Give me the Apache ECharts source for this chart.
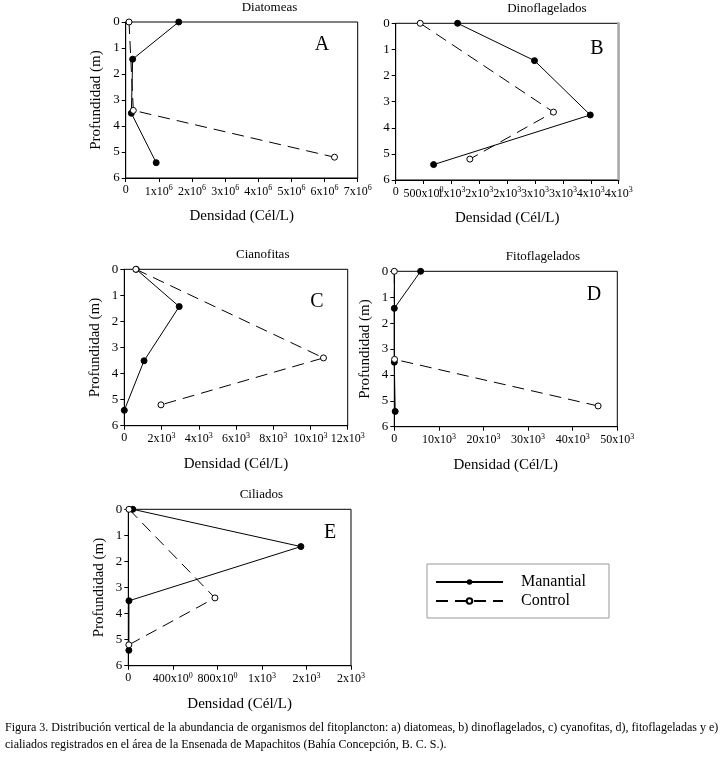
<!DOCTYPE html>
<html><head><meta charset="utf-8">
<script src="https://cdn.jsdelivr.net/npm/echarts@6/dist/echarts.min.js"></script>
<style>html,body{margin:0;padding:0;background:#fff}#c{width:722px;height:758px}</style>
</head><body><div id="c"></div>
<script>
// Depths (m)
var depthManantial = [0, 1.43, 3.51, 5.41];
var depthControl = [0, 3.4, 5.2];

// Panel values (Cél/L)
var diatomeasManantial = [1600000, 210000, 170000, 920000];
var diatomeasControl = [100000, 230000, 6300000];
var dinoManantial = [1110, 2490, 3490, 680];
var dinoControl = [440, 2830, 1330];
var cianoManantial = [640, 2950, 1060, 0];
var cianoControl = [620, 10700, 1970];
var fitoManantial = [5900, 0, 0, 200];
var fitoControl = [0, 60, 45700];
var ciliadosManantial = [40, 1550, 6, 5];
var ciliadosControl = [6, 778, 5];

// Tick labels
var ticksA = ['0','1x10{s|6}','2x10{s|6}','3x10{s|6}','4x10{s|6}','5x10{s|6}','6x10{s|6}','7x10{s|6}'];
var ticksB = ['0','500x10{s|0}','1x10{s|3}','2x10{s|3}','2x10{s|3}','3x10{s|3}','3x10{s|3}','4x10{s|3}','4x10{s|3}'];
var ticksC = ['0','2x10{s|3}','4x10{s|3}','6x10{s|3}','8x10{s|3}','10x10{s|3}','12x10{s|3}'];
var ticksD = ['0','10x10{s|3}','20x10{s|3}','30x10{s|3}','40x10{s|3}','50x10{s|3}'];
var ticksE = ['0','400x10{s|0}','800x10{s|0}','1x10{s|3}','2x10{s|3}','2x10{s|3}'];
var depthTicks = ['0','1','2','3','4','5','6'];

var titles = ['Diatomeas','Dinoflagelados','Cianofitas','Fitoflagelados','Ciliados'];
var letters = ['A','B','C','D','E'];
var seriesNames = ['Manantial','Control'];
var xName = 'Densidad (Cél/L)';
var yName = 'Profundidad (m)';
var caption1 = 'Figura 3. Distribución vertical de la abundancia de organismos del fitoplancton: a) diatomeas, b) dinoflagelados, c) cyanofitas, d), fitoflageladas y e)';
var caption2 = 'cialiados registrados en el área de la Ensenada de Mapachitos (Bahía Concepción, B. C. S.).';

var FONT = 'Liberation Serif';
var panels = [
  {grid:{left:125.7, top:22, width:232, height:156}, max:7000000, interval:1000000, ticks:ticksA, m:diatomeasManantial, c:diatomeasControl, yname:true, letter:[322,45]},
  {grid:{left:395.7, top:23.3, width:223, height:156.7}, max:4000, interval:500, ticks:ticksB, m:dinoManantial, c:dinoControl, yname:false, grayRight:true, letter:[597,49]},
  {grid:{left:124.3, top:269.3, width:223.4, height:156.4}, max:12000, interval:2000, ticks:ticksC, m:cianoManantial, c:cianoControl, yname:true, letter:[317,302]},
  {grid:{left:394.3, top:271.3, width:223, height:155.4}, max:50000, interval:10000, ticks:ticksD, m:fitoManantial, c:fitoControl, yname:true, letter:[594,295]},
  {grid:{left:128.3, top:509.3, width:222.7, height:156.4}, max:2000, interval:400, ticks:ticksE, m:ciliadosManantial, c:ciliadosControl, yname:true, letter:[330,533]}
];

function pairs(xs, ys){ return xs.map(function(v,i){ return [v, ys[i]]; }); }

var grids=[], xAxes=[], yAxes=[], series=[], graphics=[];
panels.forEach(function(p, k){
  grids.push(Object.assign({show:true, borderColor:'#000', borderWidth:1, containLabel:false}, p.grid));
  var tl = p.ticks;
  xAxes.push({
    type:'value', gridIndex:k, min:0, max:p.max, interval:p.interval,
    name:xName, nameLocation:'middle', nameGap:31,
    nameTextStyle:{fontFamily:FONT, fontSize:15, color:'#000'},
    axisLine:{show:true, onZero:false, lineStyle:{color:'#000', width:1}},
    axisTick:{show:true, inside:false, length:4, lineStyle:{color:'#000'}},
    splitLine:{show:false},
    axisLabel:{show:true, margin:6, color:'#000', fontFamily:FONT, fontSize:12,
      formatter:function(v, i){ var idx = Math.round(v / p.interval); return tl[idx] !== undefined ? tl[idx] : ''; },
      rich:{s:{fontFamily:FONT, fontSize:8, color:'#000', padding:[0,0,7,0]}}}
  });
  yAxes.push({
    type:'value', gridIndex:k, min:0, max:6, interval:1, inverse:true,
    name: p.yname ? yName : '', nameLocation:'middle', nameGap:22, nameRotate:90,
    nameTextStyle:{fontFamily:FONT, fontSize:15, color:'#000'},
    axisLine:{show:true, onZero:false, lineStyle:{color:'#000', width:1}},
    axisTick:{show:true, inside:false, length:4, lineStyle:{color:'#000'}},
    splitLine:{show:false},
    axisLabel:{margin:6, color:'#000', fontFamily:FONT, fontSize:13, formatter:function(v){ return depthTicks[Math.round(v)]; }}
  });
  series.push({
    name:seriesNames[0], type:'line', xAxisIndex:k, yAxisIndex:yAxes.length-1,
    data:pairs(p.m, depthManantial), symbol:'circle', symbolSize:6,
    lineStyle:{color:'#000', width:1, type:'solid'}, itemStyle:{color:'#000', borderColor:'#000'},
    emphasis:{disabled:true}, animation:false, z:2
  });
  series.push({
    name:seriesNames[1], type:'line', xAxisIndex:k, yAxisIndex:yAxes.length-1,
    data:pairs(p.c, depthControl), symbol:'circle', symbolSize:6, showAllSymbol:true,
    lineStyle:{color:'#000', width:1, type:[12,7]}, itemStyle:{color:'#fff', borderColor:'#000', borderWidth:1},
    emphasis:{disabled:true}, animation:false, z:3
  });
  if (p.grayRight){
    yAxes.push({type:'value', gridIndex:k, min:0, max:6, position:'right', inverse:true,
      axisLine:{show:true, onZero:false, lineStyle:{color:'#aaa', width:2.5}}, axisTick:{show:false}, axisLabel:{show:false}, splitLine:{show:false}});
  }
  graphics.push({type:'text', left:p.grid.left + p.grid.width/2, top:p.grid.top - 21, style:{text:titles[k], font:'13px "Liberation Serif"', fill:'#000', textAlign:'center'}});
  graphics.push({type:'text', x:p.letter[0], y:p.letter[1], style:{text:letters[k], font:'20px "Liberation Serif"', fill:'#000', textAlign:'center', textVerticalAlign:'middle'}});
});

graphics.push({type:'rect', shape:{x:427, y:564, width:182, height:54}, style:{fill:'none', stroke:'#999', lineWidth:1}});
graphics.push({type:'text', x:5, y:722, style:{text:caption1, font:'12px "Liberation Serif"', fill:'#000'}});
graphics.push({type:'text', x:5, y:739, style:{text:caption2, font:'12px "Liberation Serif"', fill:'#000'}});

var chart = echarts.init(document.getElementById('c'), null, {renderer:'canvas'});
chart.setOption({
  animation:false,
  backgroundColor:'#fff',
  grid:grids, xAxis:xAxes, yAxis:yAxes, series:series,
  legend:{data:seriesNames, orient:'vertical', left:435, top:574, itemWidth:67, itemHeight:7, itemGap:3, padding:0,
    textStyle:{fontFamily:FONT, fontSize:16, color:'#000', padding:[0,0,0,13]}, selectedMode:false},
  graphic:graphics
});
</script></body></html>
